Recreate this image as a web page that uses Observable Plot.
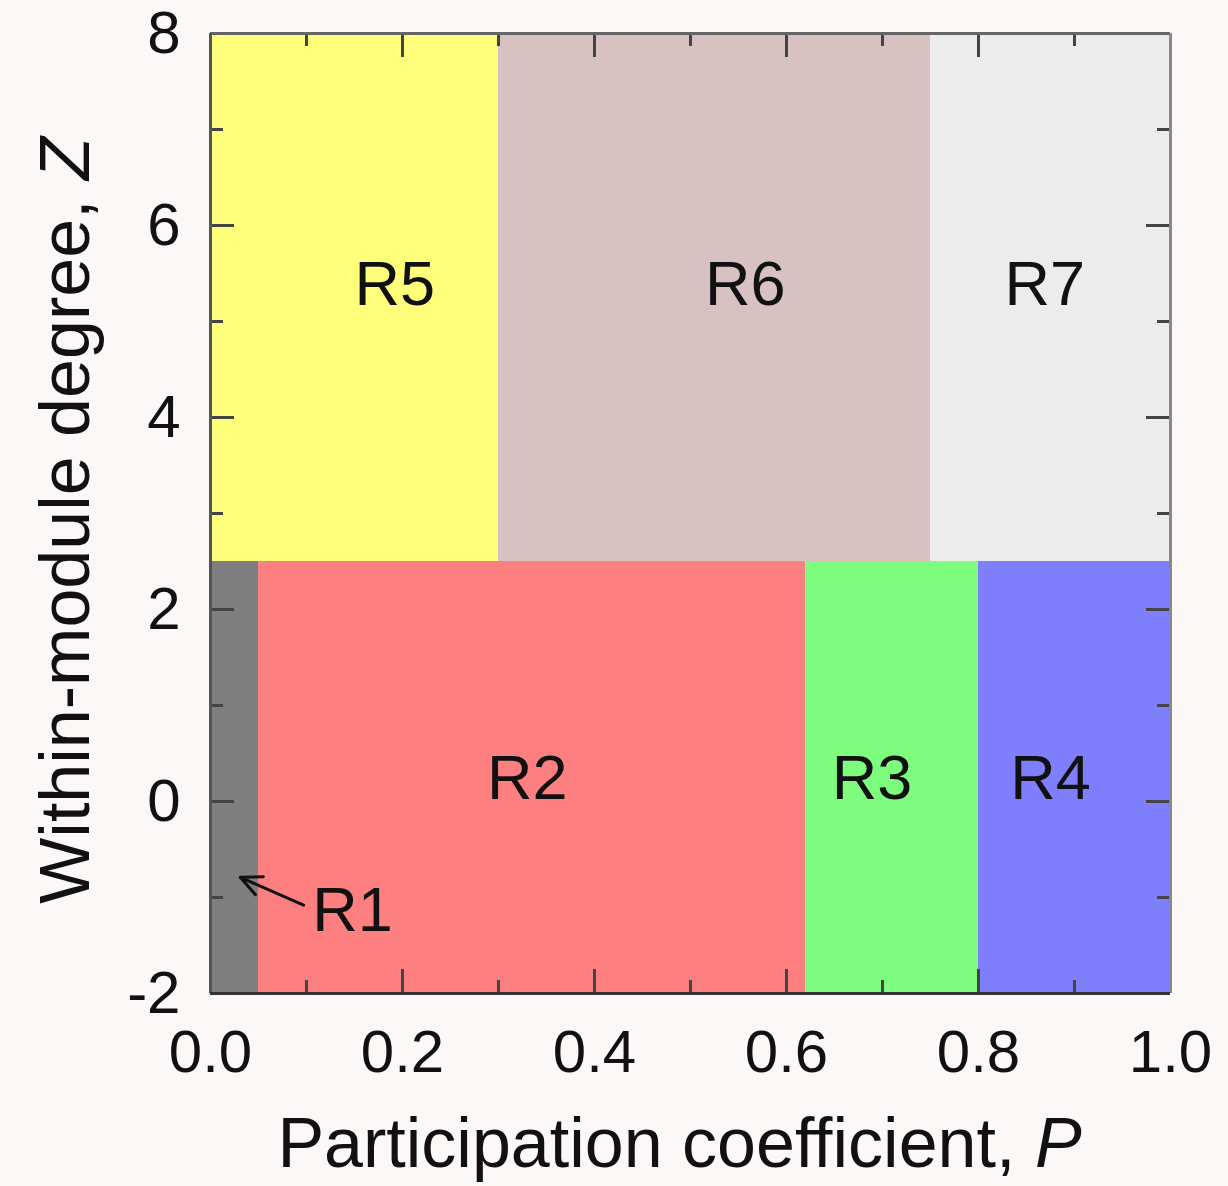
<!DOCTYPE html>
<html>
<head>
<meta charset="utf-8">
<script src="https://cdn.jsdelivr.net/npm/d3@7"></script>
<script src="https://cdn.jsdelivr.net/npm/@observablehq/plot@0.6"></script>
<style>
  html, body { margin: 0; padding: 0; background: #fbf8f7; }
  #chart svg { display: block; }
</style>
</head>
<body>
<div id="chart"></div>
<script>
// Region definitions (participation coefficient P vs within-module degree Z)
const regionNames = ["R1", "R2", "R3", "R4", "R5", "R6", "R7"];
const regionP1 = [0.00, 0.05, 0.62, 0.80, 0.00, 0.30, 0.75];
const regionP2 = [0.05, 0.62, 0.80, 1.00, 0.30, 0.75, 1.00];
const regionZ1 = [-2, -2, -2, -2, 2.5, 2.5, 2.5];
const regionZ2 = [2.5, 2.5, 2.5, 2.5, 8, 8, 8];
const regionColors = ["#7f7f7f", "#fe7f7f", "#7efc7e", "#7f7ffd", "#fefe7a", "#d8c1c1", "#ececec"];

// Label positions
const labelNames = ["R2", "R3", "R4", "R5", "R6", "R7", "R1"];
const labelP = [0.330, 0.689, 0.875, 0.192, 0.557, 0.869, 0.148];
const labelZ = [0.24, 0.24, 0.24, 5.38, 5.38, 5.38, -1.14];

// Arrow pointing to R1
const arrowFrom = [0.097, -1.08];
const arrowTo = [0.031, -0.79];

// Axis ticks
const xMajor = [0, 0.2, 0.4, 0.6, 0.8, 1.0];
const xMinor = [0.1, 0.3, 0.5, 0.7, 0.9];
const yMajor = [-2, 0, 2, 4, 6, 8];
const yMinor = [-1, 1, 3, 5, 7];

const xLabel = "Participation coefficient, ";
const xLabelItalic = "P";
const yLabel = "Within-module degree, ";
const yLabelItalic = "Z";

const regions = regionNames.map((n, i) => ({
  name: n, p1: regionP1[i], p2: regionP2[i], z1: regionZ1[i], z2: regionZ2[i], color: regionColors[i]
}));
const labels = labelNames.map((n, i) => ({name: n, p: labelP[i], z: labelZ[i]}));

const W = 1228, H = 1186;
const mL = 210, mR = 58, mT = 33, mB = 193;
const innerW = W - mL - mR, innerH = H - mT - mB;
const majorLen = 24, minorLen = 13;
const tickColor = "#444";

const chart = Plot.plot({
  width: W,
  height: H,
  marginLeft: mL,
  marginRight: mR,
  marginTop: mT,
  marginBottom: mB,
  style: {background: "#fbf8f7", fontFamily: "'Liberation Sans', Arial, Helvetica, sans-serif", color: "#111"},
  x: {domain: [0, 1], axis: null},
  y: {domain: [-2, 8], axis: null},
  marks: [
    Plot.rect(regions, {x1: "p1", x2: "p2", y1: "z1", y2: "z2", fill: "color"}),
    // bottom ticks
    Plot.tickX(xMajor.slice(1, -1), {x: d => d, insetTop: innerH - majorLen, stroke: tickColor, strokeWidth: 3}),
    Plot.tickX(xMinor, {x: d => d, insetTop: innerH - minorLen, stroke: tickColor, strokeWidth: 3}),
    // top ticks
    Plot.tickX(xMajor.slice(1, -1), {x: d => d, insetBottom: innerH - majorLen, stroke: tickColor, strokeWidth: 3}),
    Plot.tickX(xMinor, {x: d => d, insetBottom: innerH - minorLen, stroke: tickColor, strokeWidth: 3}),
    // left ticks
    Plot.tickY(yMajor.slice(1, -1), {y: d => d, insetRight: innerW - majorLen, stroke: tickColor, strokeWidth: 3}),
    Plot.tickY(yMinor, {y: d => d, insetRight: innerW - minorLen, stroke: tickColor, strokeWidth: 3}),
    // right ticks
    Plot.tickY(yMajor.slice(1, -1), {y: d => d, insetLeft: innerW - majorLen, stroke: tickColor, strokeWidth: 3}),
    Plot.tickY(yMinor, {y: d => d, insetLeft: innerW - minorLen, stroke: tickColor, strokeWidth: 3}),
    // frame
    Plot.ruleY([8], {stroke: "#666", strokeWidth: 3}),
    Plot.ruleX([1], {stroke: "#888", strokeWidth: 3}),
    Plot.ruleX([0], {stroke: "#555", strokeWidth: 3}),
    Plot.ruleY([-2], {stroke: "#333", strokeWidth: 3}),
    // axes tick labels
    Plot.axisX(xMajor, {anchor: "bottom", tickSize: 0, tickPadding: 36, fontSize: 60, tickFormat: d3.format(".1f"), label: null, fill: "#111"}),
    Plot.axisY(yMajor, {anchor: "left", tickSize: 0, tickPadding: 30, fontSize: 60, tickFormat: d => String(d), label: null, fill: "#111"}),
    // region labels
    Plot.text(labels, {x: "p", y: "z", text: "name", fontSize: 63, fill: "#111", textAnchor: "middle", lineAnchor: "middle"}),
    // arrow
    Plot.arrow([{x1: arrowFrom[0], y1: arrowFrom[1], x2: arrowTo[0], y2: arrowTo[1]}],
      {x1: "x1", y1: "y1", x2: "x2", y2: "y2", stroke: "#111", strokeWidth: 3, headLength: 20, headAngle: 50, bend: 0}),
    // axis labels
    Plot.text([xLabel], {text: d => d, frameAnchor: "bottom", dx: -11, dy: 173, lineAnchor: "bottom", textAnchor: "middle", fontSize: 70, fill: "#111"}),
    Plot.text([yLabel], {text: d => d, frameAnchor: "left", dx: -122, dy: 7, rotate: -90, lineAnchor: "bottom", textAnchor: "middle", fontSize: 70, fill: "#111"})
  ]
});

function addItalic(content, italic) {
  const texts = Array.from(chart.querySelectorAll("text"));
  const t = texts.find(el => el.textContent === content);
  if (!t) return;
  const ts = document.createElementNS("http://www.w3.org/2000/svg", "tspan");
  ts.setAttribute("font-style", "italic");
  ts.textContent = italic;
  t.appendChild(ts);
}
addItalic(xLabel, xLabelItalic);
addItalic(yLabel, yLabelItalic);

document.getElementById("chart").appendChild(chart);
</script>
</body>
</html>
